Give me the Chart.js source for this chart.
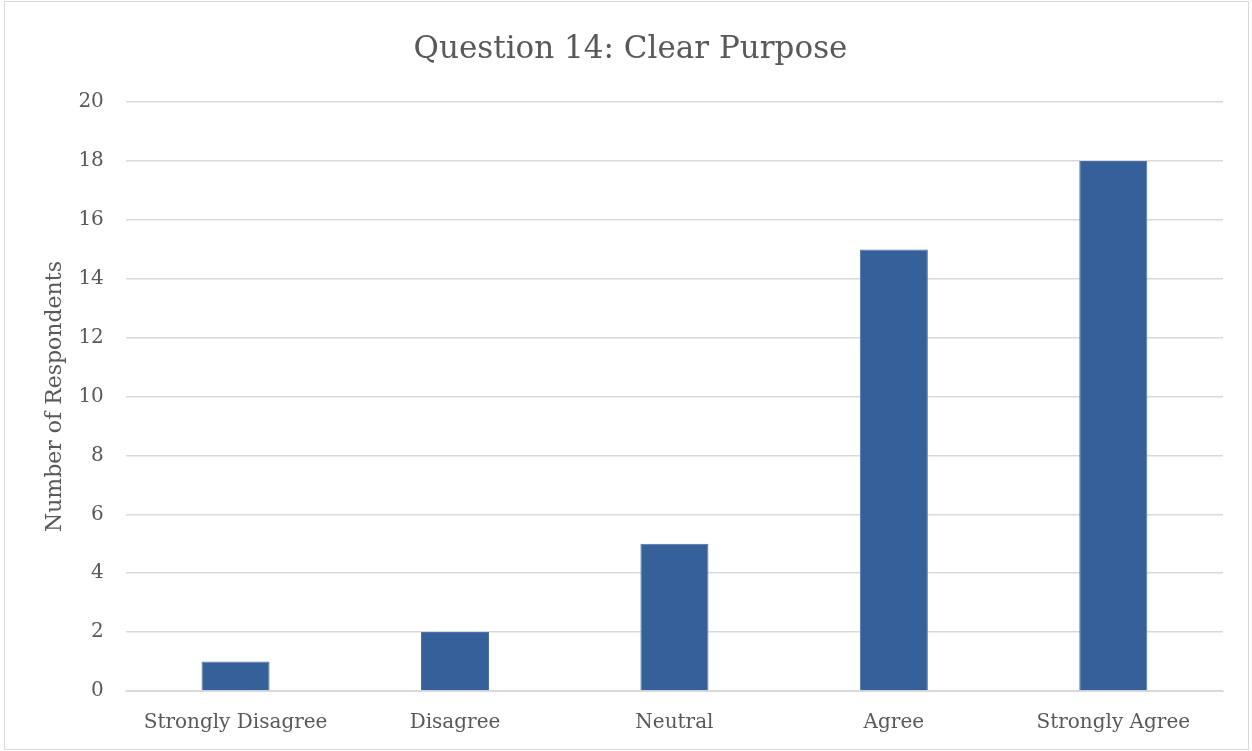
<!DOCTYPE html>
<html lang="en">
<head>
  <meta charset="UTF-8" />
  <title>Question 14: Clear Purpose</title>
  <script src="https://cdn.jsdelivr.net/npm/chart.js"></script>
  <style>
    html, body { margin: 0; padding: 0; background: #fff; }
    #wrap { width: 1252px; height: 751px; position: relative; }
  </style>
</head>
<body>
  <div id="wrap"><canvas id="grafico"></canvas></div>

  <script>
    const categorias = ['Strongly Disagree', 'Disagree', 'Neutral', 'Agree', 'Strongly Agree'];
    const respostas = [1, 2, 5, 15, 18];
    const tituloGrafico = 'Question 14: Clear Purpose';
    const tituloEixoY = 'Number of Respondents';

    const fonte = "'DejaVu Serif', 'Liberation Serif', serif";
    const cinzaTexto = '#595959';

    // moldura fina em volta de todo o gráfico
    const moldura = {
      id: 'moldura',
      afterDraw(chart) {
        const ctx = chart.ctx;
        ctx.save();
        ctx.strokeStyle = '#d9d9d9';
        ctx.lineWidth = 1;
        ctx.strokeRect(4.5, 1.5, chart.width - 8, chart.height - 3);
        ctx.restore();
      }
    };

    new Chart(document.getElementById('grafico'), {
      type: 'bar',
      data: {
        labels: categorias,
        datasets: [{
          data: respostas,
          backgroundColor: '#36609a',
          borderColor: '#4a72a8',
          borderWidth: 1,
          barPercentage: 0.31,
          categoryPercentage: 1
        }]
      },
      options: {
        responsive: true,
        maintainAspectRatio: false,
        animation: false,
        layout: { padding: { left: 38, right: 29, top: 15, bottom: -4 } },
        plugins: {
          legend: { display: false },
          tooltip: { enabled: false },
          title: {
            display: true,
            text: tituloGrafico,
            color: cinzaTexto,
            font: { family: fonte, size: 31, weight: 'normal' },
            padding: { top: 16, bottom: 34 }
          }
        },
        scales: {
          x: {
            grid: { display: false, drawTicks: false },
            border: { color: '#d9d9d9', width: 1 },
            ticks: { color: cinzaTexto, font: { family: fonte, size: 20 }, padding: 20 }
          },
          y: {
            min: 0,
            max: 20,
            grid: { color: '#d9d9d9', lineWidth: 1.5, drawTicks: false },
            border: { display: false },
            ticks: { stepSize: 2, color: cinzaTexto, font: { family: fonte, size: 20 }, padding: 22 },
            title: {
              display: true,
              text: tituloEixoY,
              color: cinzaTexto,
              font: { family: fonte, size: 22 },
              padding: { top: 4, bottom: -12 }
            }
          }
        }
      },
      plugins: [moldura]
    });
  </script>
</body>
</html>
